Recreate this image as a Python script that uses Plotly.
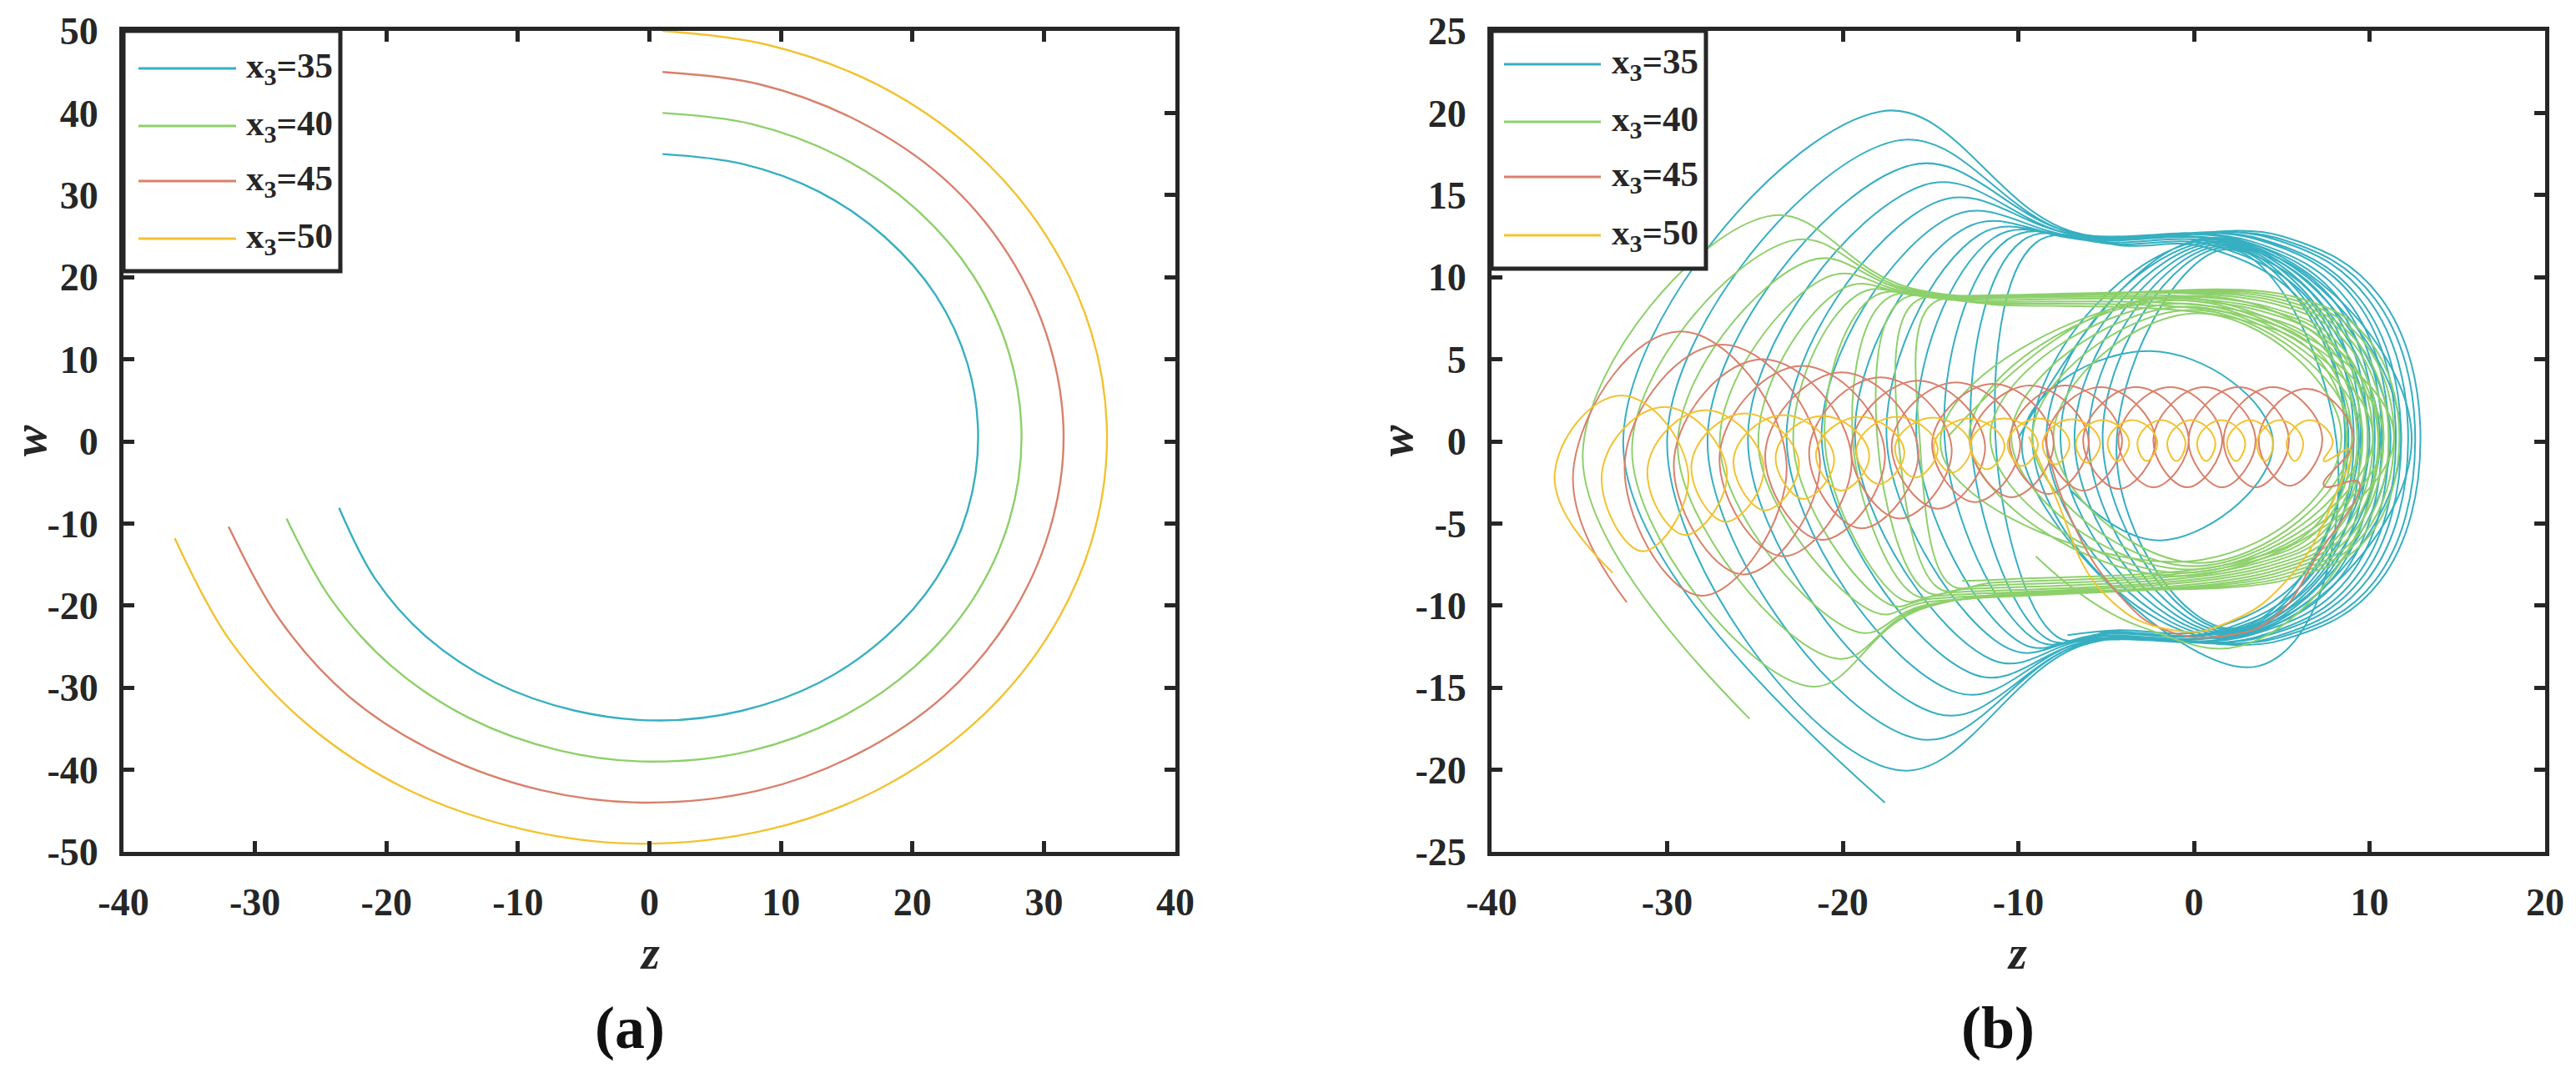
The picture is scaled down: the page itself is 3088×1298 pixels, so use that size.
import plotly.graph_objects as go

W, H = 3088, 1298

# ---------------- colours / series ----------------
series_names = ["x<sub>3</sub>=35", "x<sub>3</sub>=40", "x<sub>3</sub>=45", "x<sub>3</sub>=50"]
series_colors = ["#35AFC1", "#8DD06B", "#D8806B", "#F2C230"]

# ---------------- Panel (a): arcs (z, w) ----------------
a35_z = [1.0, 7.06, 12.9, 17.9, 21.8, 24.2, 25.0, 24.2, 21.8, 17.9, 12.9, 7.06, 0.8, -5.67, -11.7, -16.9, -20.85, -23.6]
a35_w = [35.0, 33.8, 30.4, 24.9, 17.75, 9.4, 0.5, -8.4, -16.75, -23.9, -29.4, -32.8, -34.0, -32.8, -29.4, -23.9, -16.75, -8.1]
a40_z = [1.0, 7.77, 14.45, 20.2, 24.6, 27.36, 28.3, 27.36, 24.6, 20.2, 14.45, 7.77, 0.0, -6.8, -13.7, -19.6, -24.2, -27.6]
a40_w = [40.0, 38.66, 34.7, 28.4, 20.25, 10.7, 0.5, -9.7, -19.25, -27.4, -33.7, -37.66, -39.0, -37.66, -33.7, -27.4, -19.25, -9.4]
a45_z = [1.0, 8.38, 15.9, 22.4, 27.3, 30.4, 31.5, 30.4, 27.3, 22.4, 15.9, 8.38, -0.5, -8.2, -16.1, -22.9, -28.1, -32.0]
a45_w = [45.0, 43.5, 39.0, 32.0, 22.75, 12.0, 0.5, -11.0, -21.75, -31.0, -38.0, -42.5, -44.0, -42.5, -38.0, -31.0, -21.75, -10.4]
a50_z = [1.0, 9.0, 17.4, 24.6, 30.1, 33.6, 34.8, 33.6, 30.1, 24.6, 17.4, 9.0, -1.0, -9.5, -18.4, -26.0, -31.9, -36.1]
a50_w = [50.0, 48.3, 43.4, 35.5, 25.25, 13.3, 0.5, -12.3, -24.25, -34.5, -42.4, -47.3, -49.0, -47.3, -42.4, -34.5, -24.25, -11.8]

# ---------------- Panel (b): loop extremes ----------------
# x3 = 35 (teal): big left lobes through a pinch, flat band, round right lobes
b35_start_z = [-17.6]
b35_start_w = [-22.0]
b35_L   = [-32.5, -30.0, -27.7, -25.4, -23.2, -21.2, -19.3, -17.5, -15.8, -14.2, -12.7, -11.3]
b35_zT  = [-17.8, -17.0, -16.2, -15.4, -14.6, -13.8, -13.0, -12.2, -11.4, -10.6, -9.8, -9.0]
b35_T   = [20.1, 18.3, 16.8, 15.6, 14.6, 13.7, 13.0, 12.6, 12.4, 12.3, 12.2, 12.1]
b35_zPT = [-7.0, -7.0, -6.9, -6.9, -6.8, -6.8, -6.6, -6.2, -5.6, -5.0, -4.4, -3.8]
b35_wPT = [12.8, 12.7, 12.7, 12.6, 12.6, 12.5, 12.4, 12.3, 12.2, 12.1, 12.0, 11.9]
b35_zFT = [5.0, 4.7, 4.3, 3.9, 3.6, 3.2, 2.8, 2.4, 2.0, 1.6, 1.2, 0.7]
b35_wFT = [12.5, 12.4, 12.4, 12.3, 12.3, 12.2, 12.2, 12.1, 12.1, 12.0, 11.9, 11.8]
b35_zRT = [10.6, 10.3, 9.9, 9.5, 9.2, 8.8, 8.4, 8.0, 7.6, 7.2, 6.8, 6.3]
b35_wRT = [8.8, 8.7, 8.7, 8.6, 8.6, 8.5, 8.5, 8.5, 8.5, 8.4, 8.3, 8.3]
b35_R   = [12.9, 12.6, 12.2, 11.8, 11.5, 11.1, 10.7, 10.3, 9.9, 9.5, 9.1, 8.6]
b35_zRB = [10.6, 10.3, 9.9, 9.5, 9.2, 8.8, 8.4, 8.0, 7.6, 7.2, 6.8, 6.3]
b35_wRB = [-8.5, -8.5, -8.4, -8.4, -8.3, -8.3, -8.2, -8.2, -8.1, -8.1, -8.0, -8.0]
b35_zFB = [5.0, 4.7, 4.3, 3.9, 3.6, 3.2, 2.8, 2.4, 2.0, 1.6, 1.2, 0.7]
b35_wFB = [-12.1, -12.0, -12.0, -11.9, -11.9, -11.8, -11.8, -11.7, -11.7, -11.6, -11.6, -11.5]
b35_zPB = [-6.3, -6.3, -6.2, -6.2, -6.1, -6.1, -6.0, -5.8, -5.5, -5.1, -4.7, -4.3]
b35_wPB = [-12.4, -12.3, -12.3, -12.2, -12.2, -12.1, -12.0, -11.9, -11.8, -11.7, -11.6, -11.5]
b35_zB  = [-17.0, -15.8, -14.6, -13.5, -12.5, -11.5, -10.6, -9.8, -9.0, -8.4, -7.8, -7.2]
b35_B   = [-20.0, -18.1, -16.6, -15.3, -14.2, -13.3, -12.6, -12.3, -12.1, -12.0, -11.9, -11.8]
# teal interior loops (round circles on the right half)
b35i_L  = [-10.0, -9.2, -8.4, -7.6, -6.8, -6.0, -5.2, -4.4]
b35i_R  = [12.4, 11.8, 11.2, 10.6, 10.0, 9.4, 8.8, 8.2]
b35i_zT = [1.2, 1.3, 1.4, 1.5, 1.6, 1.7, 1.8, 1.9]
b35i_T  = [12.4, 12.3, 12.2, 12.1, 12.0, 11.9, 11.8, 11.7]
b35i_zB = [1.6, 1.7, 1.8, 1.9, 2.0, 2.1, 2.2, 3.6]
b35i_B  = [-12.0, -11.9, -11.8, -11.7, -11.6, -11.5, -11.4, -13.7]
b35_end_z = [-9.8, -2.5, 4.5, -1.5, -7.0]
b35_end_w = [0.0, 5.5, 0.0, -6.0, -3.0]

# x3 = 40 (green)
b40_start_z = [-25.3]
b40_start_w = [-16.9]
b40_L   = [-34.8, -32.0, -29.4, -27.0, -24.8, -22.8, -21.0, -19.4, -18.0, -16.8, -15.6]
b40_zT  = [-24.3, -23.0, -21.9, -20.9, -20.0, -19.2, -18.4, -17.6, -16.8, -16.0, -15.0]
b40_T   = [13.7, 12.2, 11.0, 10.0, 9.3, 8.9, 8.7, 8.6, 8.5, 8.4, 8.3]
b40_zPT = [-16.0, -16.0, -15.9, -15.8, -15.6, -15.0, -14.2, -13.4, -12.6, -11.8, -11.0]
b40_wPT = [9.3, 9.2, 9.1, 9.0, 8.9, 8.8, 8.7, 8.6, 8.5, 8.4, 8.3]
b40_zFT = [5.7, 5.4, 5.1, 4.8, 4.5, 4.2, 3.9, 3.6, 3.3, 3.0, 2.7]
b40_wFT = [8.8, 8.7, 8.6, 8.5, 8.4, 8.2, 8.1, 8.0, 7.8, 7.6, 7.4]
b40_zRT = [9.95, 9.65, 9.35, 9.05, 8.75, 8.45, 8.15, 7.85, 7.55, 7.25, 6.95]
b40_wRT = [6.2, 6.1, 6.0, 6.0, 5.9, 5.7, 5.7, 5.6, 5.5, 5.3, 5.2]
b40_R   = [11.7, 11.4, 11.1, 10.8, 10.5, 10.2, 9.9, 9.6, 9.3, 9.0, 8.7]
b40_zRB = [9.95, 9.65, 9.35, 9.05, 8.75, 8.45, 8.15, 7.85, 7.55, 7.25, 6.95]
b40_wRB = [-5.8, -5.7, -5.7, -5.6, -5.5, -5.5, -5.4, -5.3, -5.3, -5.2, -5.1]
b40_zFB = [5.7, 5.4, 5.1, 4.8, 4.5, 4.2, 3.9, 3.6, 3.3, 3.0, 2.7]
b40_wFB = [-8.3, -8.2, -8.1, -8.0, -7.9, -7.8, -7.7, -7.6, -7.5, -7.4, -7.3]
b40_zPB = [-15.5, -15.5, -15.4, -15.3, -15.1, -14.6, -13.8, -13.0, -12.2, -11.4, -10.6]
b40_wPB = [-10.2, -10.1, -10.0, -9.8, -9.6, -9.4, -9.2, -9.0, -8.8, -8.6, -8.4]
b40_zB  = [-22.0, -20.5, -19.2, -18.2, -17.4, -16.7, -16.0, -15.3, -14.6, -13.9, -13.2]
b40_B   = [-14.9, -13.2, -11.6, -10.4, -9.9, -9.6, -9.3, -9.1, -8.9, -8.7, -8.5]
# green interior loops
b40i_L  = [-14.0, -12.8, -11.6, -10.4, -9.2, -8.0]
b40i_R  = [11.4, 10.8, 10.2, 9.6, 9.0, 8.4]
b40i_zT = [-1.3, -1.0, -0.7, -0.4, -0.1, 0.2]
b40i_T  = [8.8, 8.6, 8.4, 8.2, 8.0, 7.8]
b40i_zB = [-1.0, -0.7, -0.4, -0.1, 0.2, 0.5]
b40i_B  = [-8.2, -8.0, -7.8, -7.6, -7.4, -7.2]
b40_end_z = [-14.4, -6.0, 6.0, 10.5, 4.0, -3.0, -9.0]
b40_end_w = [-0.5, 7.6, 7.2, 0.0, -11.9, -11.3, -7.0]

# x3 = 45 (red): loops drifting to the right
b45_start_z = [-32.3]
b45_start_w = [-9.8]
b45_L  = [-35.3, -32.4, -29.6, -27.0, -24.4, -21.9, -19.5, -17.2, -14.9, -12.7, -10.5, -8.4, -6.3, -4.3, -2.3, -0.3, 1.7, 3.7]
b45_R  = [-23.2, -21.3, -19.5, -17.6, -15.7, -13.8, -11.9, -9.9, -8.0, -6.0, -4.1, -2.2, -0.3, 1.6, 3.5, 5.4, 7.3, 9.1]
b45_zT = [-29.25, -26.85, -24.55, -22.3, -20.05, -17.85, -15.7, -13.55, -11.45, -9.35, -7.3, -5.3, -3.3, -1.35, 0.6, 2.55, 4.5, 6.4]
b45_T  = [6.7, 5.9, 5.0, 4.6, 4.2, 3.9, 3.7, 3.6, 3.5, 3.4, 3.4, 3.3, 3.3, 3.3, 3.3, 3.3, 3.3, 3.2]
b45_zB = [-28.05, -25.7, -23.4, -21.2, -18.95, -16.8, -14.6, -12.5, -10.4, -8.3, -6.3, -4.3, -2.3, -0.4, 1.6, 3.5, 5.45, 7.4]
b45_B  = [-9.4, -8.1, -7.0, -6.0, -5.3, -4.7, -4.1, -3.7, -3.4, -3.2, -3.0, -2.9, -2.8, -2.8, -2.8, -2.8, -2.7, -2.7]
b45_end_z = [9.4, 7.0, 4.7, 2.0, -1.6, -4.3, -7.1, -8.5]
b45_end_w = [-2.5, -7.0, -10.6, -11.8, -11.5, -9.3, -4.5, 0.3]

# x3 = 50 (yellow)
b50_start_z = [-33.1]
b50_start_w = [-8.0]
b50_L  = [-36.4, -33.7, -31.1, -28.6, -26.2, -23.8, -21.5, -19.2, -17.0, -14.8, -12.7, -10.6, -8.6, -6.7, -4.9, -3.2, -1.5, 0.2, 1.9, 3.6, 5.3]
b50_R  = [-28.8, -26.6, -24.5, -22.5, -20.5, -18.5, -16.5, -14.6, -12.7, -10.8, -8.9, -7.1, -5.35, -3.7, -2.1, -0.5, 1.2, 2.9, 4.5, 6.2, 7.9]
b50_zT = [-32.6, -30.15, -27.8, -25.55, -23.35, -21.15, -19.0, -16.9, -14.85, -12.8, -10.8, -8.85, -6.95, -5.2, -3.5, -1.85, -0.15, 1.55, 3.2, 4.9, 6.6]
b50_T  = [2.8, 2.1, 1.9, 1.7, 1.6, 1.55, 1.5, 1.5, 1.45, 1.4, 1.4, 1.4, 1.35, 1.3, 1.3, 1.3, 1.3, 1.3, 1.3, 1.3, 1.3]
b50_zB = [-31.4, -29.0, -26.7, -24.45, -22.25, -20.1, -17.95, -15.9, -13.8, -11.8, -9.8, -7.9, -6.1, -4.35, -2.7, -1.0, 0.7, 2.4, 4.05, 5.75, 7.4]
b50_B  = [-6.7, -5.7, -4.9, -4.2, -3.5, -3.0, -2.6, -2.2, -1.9, -1.7, -1.5, -1.4, -1.3, -1.2, -1.2, -1.2, -1.2, -1.2, -1.2, -1.2, -1.2]
b50_end_z = [8.9, 8.1, 5.5, 2.0, -1.2, -5.1, -8.0, -9.4]
b50_end_w = [-0.5, -3.2, -8.2, -11.0, -11.5, -9.3, -3.1, 0.3]

# ---------------- axis ticks ----------------
a_xticks = [-40, -30, -20, -10, 0, 10, 20, 30, 40]
a_yticks = [-50, -40, -30, -20, -10, 0, 10, 20, 30, 40, 50]
b_xticks = [-40, -30, -20, -10, 0, 10, 20]
b_yticks = [-25, -20, -15, -10, -5, 0, 5, 10, 15, 20, 25]


def tick_text(vals):
    return [str(v) for v in vals]


def path10(sz, sw, L, zT, T, zPT, wPT, zFT, wFT, zRT, wRT, R, zRB, wRB, zFB, wFB, zPB, wPB, zB, B):
    zs, ws = list(sz), list(sw)
    for k in range(len(L)):
        wl = (T[k] + B[k]) / 2
        wr = (wRT[k] + wRB[k]) / 2
        zs += [L[k], zT[k], zPT[k], zFT[k], zRT[k], R[k], zRB[k], zFB[k], zPB[k], zB[k]]
        ws += [wl, T[k], wPT[k], wFT[k], wRT[k], wr, wRB[k], wFB[k], wPB[k], B[k]]
    return zs, ws


def path4(sz, sw, L, R, zT, T, zB, B, ez, ew):
    zs, ws = list(sz), list(sw)
    for k in range(len(L)):
        wc = (T[k] + B[k]) / 2
        zs += [L[k], zT[k], R[k], zB[k]]
        ws += [wc, T[k], wc, B[k]]
    return zs + list(ez), ws + list(ew)


b35_z, b35_w = path10(b35_start_z, b35_start_w, b35_L, b35_zT, b35_T, b35_zPT, b35_wPT, b35_zFT, b35_wFT,
                      b35_zRT, b35_wRT, b35_R, b35_zRB, b35_wRB, b35_zFB, b35_wFB, b35_zPB, b35_wPB,
                      b35_zB, b35_B)
b35i_z, b35i_w = path4([], [], b35i_L, b35i_R, b35i_zT, b35i_T, b35i_zB, b35i_B, b35_end_z, b35_end_w)
b40_z, b40_w = path10(b40_start_z, b40_start_w, b40_L, b40_zT, b40_T, b40_zPT, b40_wPT, b40_zFT, b40_wFT,
                      b40_zRT, b40_wRT, b40_R, b40_zRB, b40_wRB, b40_zFB, b40_wFB, b40_zPB, b40_wPB,
                      b40_zB, b40_B)
b40i_z, b40i_w = path4([], [], b40i_L, b40i_R, b40i_zT, b40i_T, b40i_zB, b40i_B, b40_end_z, b40_end_w)
b45_z, b45_w = path4(b45_start_z, b45_start_w, b45_L, b45_R, b45_zT, b45_T, b45_zB, b45_B, b45_end_z, b45_end_w)
b50_z, b50_w = path4(b50_start_z, b50_start_w, b50_L, b50_R, b50_zT, b50_T, b50_zB, b50_B, b50_end_z, b50_end_w)

# ---------------- layout geometry (pixels of the 3088x1298 page) ----------------
def px(x):
    return x / W


def py(y):
    return 1 - y / H


A_L, A_R, TOP, BOT = 148, 1409, 37, 1021
B_L, B_R = 1788, 3051

FONT = "Liberation Serif, Times New Roman, serif"
INK = "#262626"

fig = go.Figure()

a_data = [(a35_z, a35_w), (a40_z, a40_w), (a45_z, a45_w), (a50_z, a50_w)]
for (zz, ww), name, col in zip(a_data, series_names, series_colors):
    fig.add_trace(go.Scatter(x=zz, y=ww, mode="lines", name=name, showlegend=False,
                             line=dict(color=col, width=2.4, shape="spline", smoothing=1.0),
                             xaxis="x", yaxis="y", hoverinfo="skip"))

b_parts = [
    [(b35_z, b35_w, 1.1), (b35i_z, b35i_w, 1.3)],
    [(b40_z, b40_w, 1.1), (b40i_z, b40i_w, 1.3)],
    [(b45_z, b45_w, 1.3)],
    [(b50_z, b50_w, 1.3)],
]
for parts, name, col in zip(b_parts, series_names, series_colors):
    for zz, ww, sm in parts:
        fig.add_trace(go.Scatter(x=zz, y=ww, mode="lines", name=name, showlegend=False,
                                 line=dict(color=col, width=2.0, shape="spline", smoothing=sm),
                                 xaxis="x2", yaxis="y2", hoverinfo="skip"))

axis_common = dict(showline=True, linewidth=5, linecolor=INK, mirror="ticks", ticks="inside",
                   ticklen=13, tickwidth=5, tickcolor=INK, showgrid=False, zeroline=False,
                   automargin=False,
                   tickfont=dict(family=FONT, size=46, color=INK, weight="bold"))

fig.update_layout(
    template="none",
    width=W, height=H, autosize=False,
    margin=dict(l=0, r=0, t=0, b=0, pad=0, autoexpand=False),
    paper_bgcolor="white", plot_bgcolor="white",
    showlegend=False,
    xaxis=dict(domain=[px(A_L), px(A_R)], range=[-40, 40], tickvals=a_xticks, ticktext=tick_text(a_xticks),
               anchor="y", ticklabelstandoff=16, **axis_common),
    yaxis=dict(domain=[py(BOT), py(TOP)], range=[-50, 50], tickvals=a_yticks, ticktext=tick_text(a_yticks),
               anchor="x", ticklabelstandoff=16, **axis_common),
    xaxis2=dict(domain=[px(B_L), px(B_R)], range=[-40, 20], tickvals=b_xticks, ticktext=tick_text(b_xticks),
                anchor="y2", ticklabelstandoff=16, **axis_common),
    yaxis2=dict(domain=[py(BOT), py(TOP)], range=[-25, 25], tickvals=b_yticks, ticktext=tick_text(b_yticks),
                anchor="x2", ticklabelstandoff=16, **axis_common),
)

shapes = []
annotations = []

# manual legends (box, line samples, labels)
legend_specs = [
    dict(box=(148, 37, 408, 325), line_x=(166, 283), text_x=293, rows=[82, 151, 217, 286]),
    dict(box=(1788, 37, 2045, 322), line_x=(1803, 1919), text_x=1930, rows=[77, 146, 212, 282]),
]
for spec in legend_specs:
    x0, y0, x1, y1 = spec["box"]
    shapes.append(dict(type="rect", xref="paper", yref="paper", x0=px(x0), x1=px(x1), y0=py(y1), y1=py(y0),
                       line=dict(color=INK, width=5), fillcolor="white", layer="above"))
    for row, name, col in zip(spec["rows"], series_names, series_colors):
        shapes.append(dict(type="line", xref="paper", yref="paper", x0=px(spec["line_x"][0]), x1=px(spec["line_x"][1]),
                           y0=py(row), y1=py(row), line=dict(color=col, width=3), layer="above"))
        annotations.append(dict(text=name, xref="paper", yref="paper", x=px(spec["text_x"]), y=py(row),
                                xanchor="left", yanchor="middle", showarrow=False,
                                font=dict(family=FONT, size=43, color=INK, weight="bold")))

# axis titles and panel labels
label_font = dict(family=FONT, size=56, color=INK, weight="bold")
annotations += [
    dict(text="<i>z</i>", x=px(779), y=py(1142), xref="paper", yref="paper", showarrow=False,
         xanchor="center", yanchor="middle", font=label_font),
    dict(text="<i>z</i>", x=px(2418), y=py(1142), xref="paper", yref="paper", showarrow=False,
         xanchor="center", yanchor="middle", font=label_font),
    dict(text="<i>w</i>", x=px(36), y=py(528), xref="paper", yref="paper", showarrow=False, textangle=-90,
         xanchor="center", yanchor="middle", font=label_font),
    dict(text="<i>w</i>", x=px(1674), y=py(528), xref="paper", yref="paper", showarrow=False, textangle=-90,
         xanchor="center", yanchor="middle", font=label_font),
    dict(text="(a)", x=px(755), y=py(1232), xref="paper", yref="paper", showarrow=False,
         xanchor="center", yanchor="middle", font=dict(family=FONT, size=72, color="#111111", weight="bold")),
    dict(text="(b)", x=px(2395), y=py(1232), xref="paper", yref="paper", showarrow=False,
         xanchor="center", yanchor="middle", font=dict(family=FONT, size=72, color="#111111", weight="bold")),
]

fig.update_layout(shapes=shapes, annotations=annotations)

fig.write_html("out.html", config={"displayModeBar": False},
               post_script="document.body.style.margin='0px';document.body.style.overflow='hidden';")
